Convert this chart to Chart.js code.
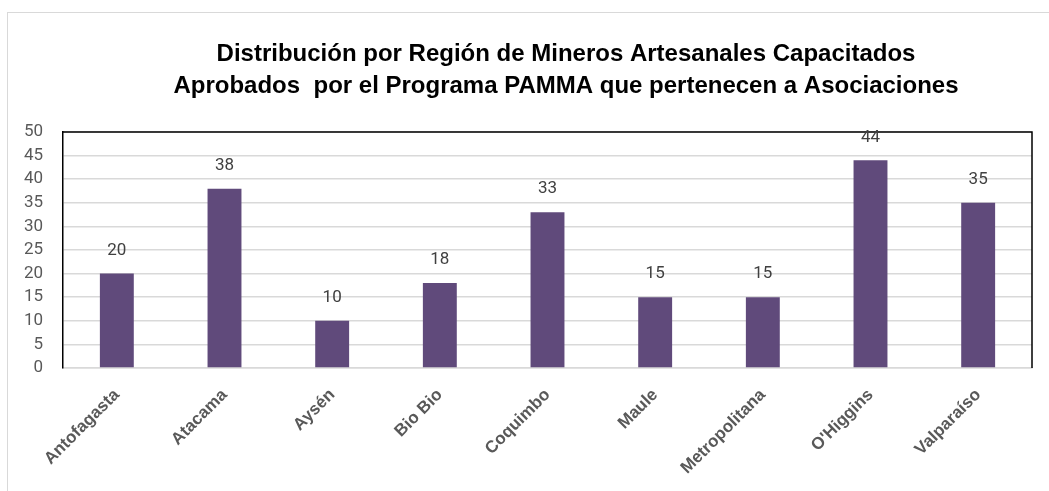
<!DOCTYPE html>
<html>
<head>
<meta charset="utf-8">
<script src="https://cdn.jsdelivr.net/npm/chart.js@4/dist/chart.umd.min.js"></script>
<style>
    body { margin: 0; background: #fff; }
    #frame { position: absolute; left: 7px; top: 12px; width: 1100px; height: 600px; border-left: 1px solid #d9d9d9; border-top: 1px solid #d9d9d9; }
    #wrap { position: absolute; left: 0; top: 0; width: 1049px; height: 491px; }
</style>
</head>
<body>
<div id="frame"></div>
<div id="wrap"><canvas id="myChart" width="1049" height="491"></canvas></div>
<script>
var regiones = ['Antofagasta', 'Atacama', 'Aysén', 'Bio Bio', 'Coquimbo', 'Maule', 'Metropolitana', "O'Higgins", 'Valparaíso'],
    mineros = [20, 38, 10, 18, 33, 15, 15, 44, 35],
    tituloLineas = ['Distribución por Región de Mineros Artesanales Capacitados', 'Aprobados  por el Programa PAMMA que pertenecen a Asociaciones'];

// title, value labels and the black top/right border
const extras = {
    id: 'extras',
    afterDatasetsDraw(chart) {
        const ctx = chart.ctx, area = chart.chartArea;
        ctx.save();
        ctx.strokeStyle = '#000';
        ctx.lineWidth = 1.5;
        ctx.beginPath();
        ctx.moveTo(area.left, area.top);
        ctx.lineTo(area.right, area.top);
        ctx.lineTo(area.right, area.bottom);
        ctx.stroke();

        ctx.fillStyle = '#404040';
        ctx.font = '17px Roboto';
        ctx.textAlign = 'center';
        ctx.textBaseline = 'middle';
        chart.getDatasetMeta(0).data.forEach((bar, i) => {
            ctx.fillText(mineros[i], bar.x, bar.y - 23);
        });

        ctx.fillStyle = '#000';
        ctx.textBaseline = 'alphabetic';
        ctx.font = 'bold 24px "Liberation Sans", Arial';
        ctx.fillText(tituloLineas[0], 566, 61);
        ctx.fillText(tituloLineas[1], 566, 93);
        ctx.restore();
    }
};

var ctx = document.getElementById('myChart').getContext('2d');
var myChart = new Chart(ctx, {
    type: 'bar',
    data: {
        labels: regiones,
        datasets: [{
            data: mineros,
            backgroundColor: '#604a7b',
            barPercentage: 0.315,
            categoryPercentage: 1
        }]
    },
    options: {
        responsive: false,
        animation: false,
        layout: {
            padding: { top: 132, right: 17, bottom: 0, left: 0 }
        },
        plugins: {
            legend: { display: false },
            tooltip: { enabled: false }
        },
        scales: {
            x: {
                afterFit: scale => { scale.height = 123; },
                grid: { display: false },
                border: { color: '#d9d9d9', width: 1.5 },
                ticks: {
                    color: '#595959',
                    font: { family: '"Liberation Sans", Arial', size: 17, weight: 'bold' },
                    maxRotation: 45,
                    minRotation: 45,
                    padding: 9
                }
            },
            y: {
                min: 0,
                max: 50,
                afterFit: scale => { scale.width = 63; },
                grid: { color: '#d9d9d9', lineWidth: 1.5, drawTicks: false },
                border: { color: '#000', width: 1.5 },
                ticks: {
                    stepSize: 5,
                    color: '#595959',
                    font: { family: 'Roboto', size: 17 },
                    padding: 20
                }
            }
        }
    },
    plugins: [extras]
});
</script>
</body>
</html>
